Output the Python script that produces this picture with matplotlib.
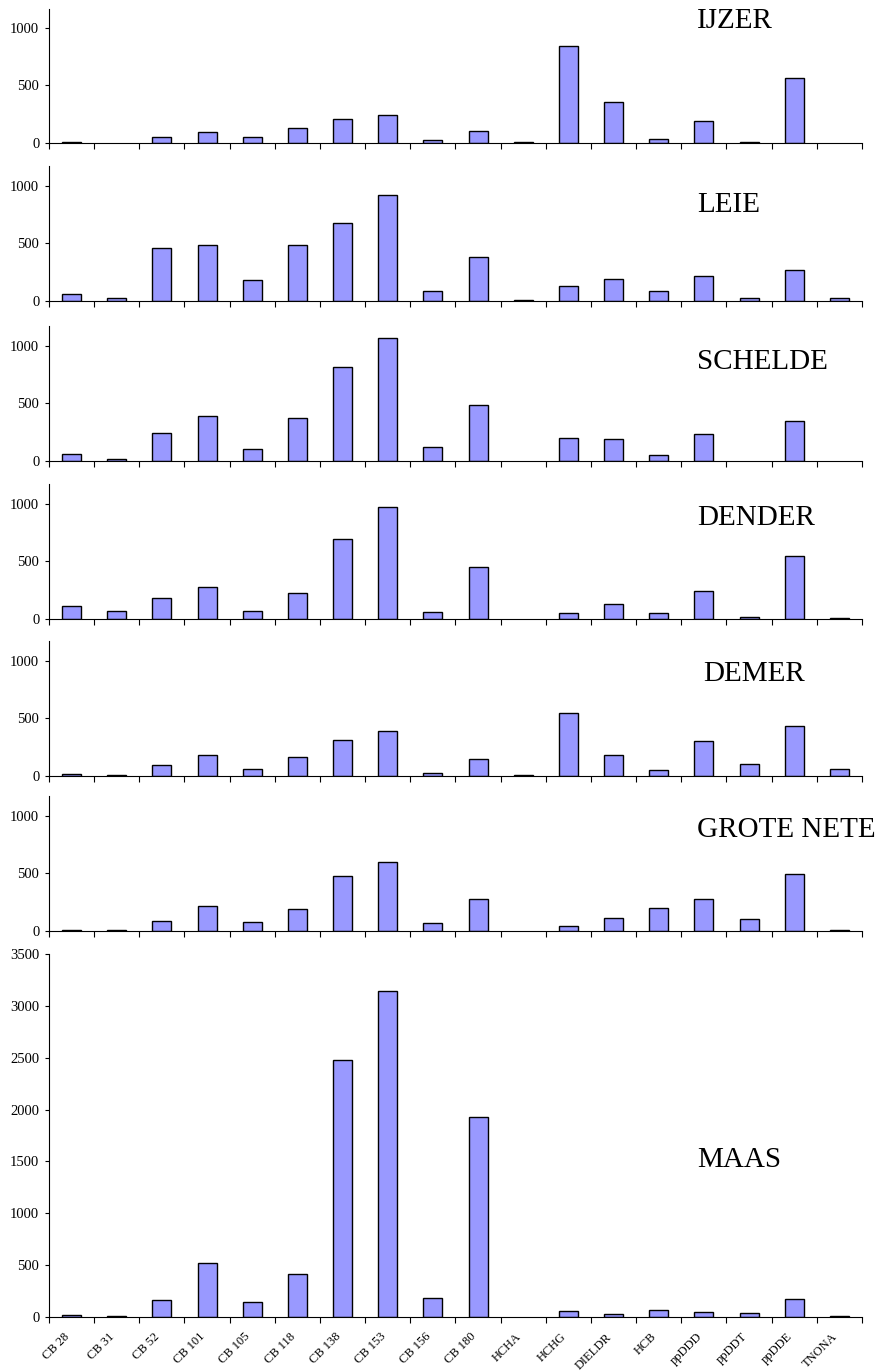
import numpy as np
import matplotlib.pyplot as plt
from matplotlib.transforms import ScaledTranslation

plt.rcParams['font.family'] = ['Liberation Serif', 'DejaVu Serif']

compounds = ['CB 28', 'CB 31', 'CB 52', 'CB 101', 'CB 105', 'CB 118', 'CB 138',
             'CB 153', 'CB 156', 'CB 180', 'HCHA', 'HCHG', 'DIELDR', 'HCB',
             'ppDDD', 'ppDDT', 'ppDDE', 'TNONA']

ijzer = [10, 0, 50, 95, 50, 130, 210, 245, 25, 105, 10, 845, 355, 35, 190, 8, 565, 0]
leie = [60, 25, 460, 485, 180, 485, 680, 915, 90, 385, 10, 130, 195, 90, 215, 25, 270, 25]
schelde = [60, 20, 240, 390, 105, 370, 815, 1065, 125, 485, 0, 200, 190, 50, 235, 0, 350, 0]
dender = [110, 70, 185, 275, 70, 225, 690, 970, 60, 455, 0, 50, 130, 50, 245, 20, 550, 10]
demer = [20, 10, 95, 180, 60, 165, 310, 390, 30, 145, 10, 550, 185, 50, 300, 105, 435, 60]
grote_nete = [10, 10, 85, 220, 80, 195, 475, 600, 70, 280, 0, 45, 115, 200, 280, 105, 490, 10]
maas = [20, 10, 165, 520, 145, 415, 2480, 3145, 185, 1925, 0, 55, 25, 65, 45, 35, 175, 10]

rivers = ['IJZER', 'LEIE', 'SCHELDE', 'DENDER', 'DEMER', 'GROTE NETE', 'MAAS']
series = [ijzer, leie, schelde, dender, demer, grote_nete, maas]

W, H = 885, 1372
fig = plt.figure(figsize=(W / 100, H / 100), dpi=100)

# panel frames in pixels: (top, zero line, y max)
frames = [(9, 143, 1165), (166, 301, 1170), (326, 461, 1170), (484, 619, 1170),
          (641, 776, 1170), (796, 931, 1170), (954, 1317, 3500)]
title_y = [21, 205, 362, 518, 674, 830, 1160]
title_x = [697, 697, 697, 697, 703, 697, 697]
left, right = 49, 862

x = np.arange(len(compounds))
for k, (name, vals) in enumerate(zip(rivers, series)):
    top, zero, ymax = frames[k]
    ax = fig.add_axes([left / W, 1 - zero / H, (right - left) / W, (zero - top) / H])
    # empty values get no outline
    lws = [1.0 if v > 0 else 0 for v in vals]
    ax.bar(x, vals, width=0.42, color='#9999ff', edgecolor='black', linewidth=lws)
    ax.set_xlim(-0.5, len(compounds) - 0.5)
    ax.set_ylim(0, ymax)
    for s in ['top', 'right']:
        ax.spines[s].set_visible(False)
    ax.spines['left'].set_linewidth(0.8)
    ax.spines['bottom'].set_linewidth(0.8)
    ax.set_yticks(np.arange(0, ymax + 1, 500))
    ax.tick_params(axis='y', direction='out', length=3, width=0.8, labelsize=10.5, pad=4)
    ax.set_xticks(np.arange(-0.5, len(compounds)), minor=True)
    ax.tick_params(axis='x', which='minor', direction='out', length=4, width=0.8)
    ax.set_xticks(x)
    if k == len(rivers) - 1:
        ax.set_xticklabels(compounds, rotation=45, ha='right', rotation_mode='anchor',
                           fontsize=9)
        ax.tick_params(axis='x', which='major', length=0, pad=10)
        shift = ScaledTranslation(-8 / 100, 0, fig.dpi_scale_trans)
        for lab in ax.get_xticklabels():
            lab.set_transform(lab.get_transform() + shift)
    else:
        ax.set_xticklabels([])
        ax.tick_params(axis='x', which='major', length=0)
    fig.text(title_x[k] / W, 1 - title_y[k] / H, name, fontsize=21,
             ha='left', va='center')

fig.savefig('out.png', dpi=100)
